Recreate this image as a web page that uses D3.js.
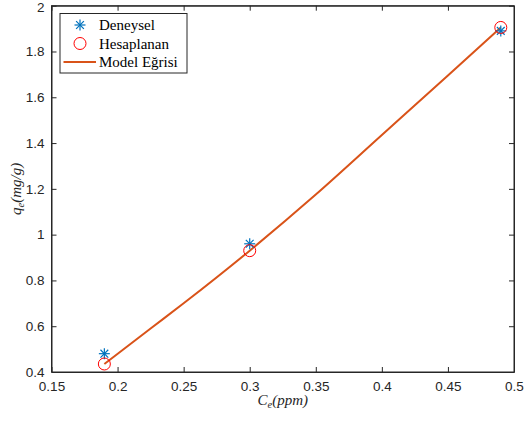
<!DOCTYPE html>
<html>
<head>
<meta charset="utf-8">
<script src="https://cdn.jsdelivr.net/npm/d3@7/dist/d3.min.js"></script>
<style>
  body { margin: 0; background: #fff; }
  svg { display: block; }
</style>
</head>
<body>
<div id="chart"></div>
<script>
var xTicks = [0.15, 0.2, 0.25, 0.3, 0.35, 0.4, 0.45, 0.5];
var yTicks = [0.4, 0.6, 0.8, 1, 1.2, 1.4, 1.6, 1.8, 2];

var deneyselC = [0.19, 0.30, 0.49];
var deneyselQ = [0.48, 0.96, 1.89];
var hesapC = [0.19, 0.30, 0.49];
var hesapQ = [0.435, 0.93, 1.905];
var modelC = [0.19, 0.225, 0.25, 0.30, 0.35, 0.40, 0.45, 0.49];
var modelQ = [0.435, 0.59, 0.70, 0.93, 1.175, 1.435, 1.695, 1.905];

var legendNames = ["Deneysel", "Hesaplanan", "Model Eğrisi"];

(function() {
var width = 525, height = 421;
var mL = 51.5, mR = 514, mT = 5.7, mB = 372;

var svg = d3.select("#chart").append("svg")
    .attr("width", width)
    .attr("height", height);

var x = d3.scaleLinear().domain([0.15, 0.5]).range([mL, mR]);
var y = d3.scaleLinear().domain([0.4, 2]).range([mB, mT]);

var tickFont = "'Liberation Sans', Arial, sans-serif";
var serif = "'Liberation Serif', 'DejaVu Serif', serif";

// axes box
svg.append("rect")
    .attr("x", mL).attr("y", mT)
    .attr("width", mR - mL).attr("height", mB - mT)
    .attr("fill", "#fff")
    .attr("stroke", "#262626")
    .attr("stroke-width", 1);

function fmt(v) { return String(+v.toFixed(2)); }

var xAxis = svg.append("g").attr("transform", "translate(0," + mB + ")")
    .call(d3.axisBottom(x).tickValues(xTicks).tickSizeInner(-5).tickSizeOuter(0).tickPadding(9).tickFormat(fmt));
var xAxisTop = svg.append("g").attr("transform", "translate(0," + mT + ")")
    .call(d3.axisTop(x).tickValues(xTicks).tickSizeInner(-5).tickSizeOuter(0).tickFormat(""));
var yAxis = svg.append("g").attr("transform", "translate(" + mL + ",0)")
    .call(d3.axisLeft(y).tickValues(yTicks).tickSizeInner(-5).tickSizeOuter(0).tickPadding(7).tickFormat(fmt));
var yAxisRight = svg.append("g").attr("transform", "translate(" + mR + ",0)")
    .call(d3.axisRight(y).tickValues(yTicks).tickSizeInner(-5).tickSizeOuter(0).tickFormat(""));

[xAxis, xAxisTop, yAxis, yAxisRight].forEach(function(a) {
    a.select(".domain").attr("stroke", "#262626");
    a.selectAll(".tick line").attr("stroke", "#262626");
    a.selectAll("text")
        .attr("fill", "#262626")
        .style("font-family", tickFont)
        .style("font-size", "13.5px");
});
// keep the top label inside the picture
yAxis.selectAll(".tick text").filter(function(d) { return d === 2; }).attr("dy", "0.4em");

// model curve
var modelData = modelC.map(function(c, i) { return {c: c, q: modelQ[i]}; });
svg.append("path")
    .datum(modelData)
    .attr("fill", "none")
    .attr("stroke", "#D95319")
    .attr("stroke-width", 2)
    .attr("d", d3.line()
        .x(function(d) { return x(d.c); })
        .y(function(d) { return y(d.q); })
        .curve(d3.curveMonotoneX));

function asterisk(g, cx, cy, r) {
    var d = r * 0.7071;
    var segs = [[-r, 0, r, 0], [0, -r, 0, r], [-d, -d, d, d], [-d, d, d, -d]];
    segs.forEach(function(s) {
        g.append("line")
            .attr("x1", cx + s[0]).attr("y1", cy + s[1])
            .attr("x2", cx + s[2]).attr("y2", cy + s[3])
            .attr("stroke", "#0072BD")
            .attr("stroke-width", 1.2);
    });
}

// Deneysel markers
var den = svg.append("g");
deneyselC.forEach(function(c, i) {
    asterisk(den, x(c), y(deneyselQ[i]), 5.5);
});

// Hesaplanan markers
svg.selectAll(".hes")
    .data(hesapC)
    .enter().append("circle")
    .attr("class", "hes")
    .attr("cx", function(d) { return x(d); })
    .attr("cy", function(d, i) { return y(hesapQ[i]); })
    .attr("r", 6)
    .attr("fill", "none")
    .attr("stroke", "#FF0000")
    .attr("stroke-width", 1);

// legend
var leg = svg.append("g");
leg.append("rect")
    .attr("x", 60).attr("y", 13.5)
    .attr("width", 127).attr("height", 59.5)
    .attr("fill", "#fff")
    .attr("stroke", "#262626")
    .attr("stroke-width", 1);

var rowY = [25, 43.5, 62];
asterisk(leg, 80, rowY[0], 5.5);
leg.append("circle")
    .attr("cx", 80).attr("cy", rowY[1]).attr("r", 6)
    .attr("fill", "none").attr("stroke", "#FF0000").attr("stroke-width", 1);
leg.append("line")
    .attr("x1", 63.5).attr("x2", 96)
    .attr("y1", rowY[2]).attr("y2", rowY[2])
    .attr("stroke", "#D95319").attr("stroke-width", 2);

leg.selectAll(".ltxt")
    .data(legendNames)
    .enter().append("text")
    .attr("class", "ltxt")
    .attr("x", 99)
    .attr("y", function(d, i) { return rowY[i] + 5; })
    .attr("fill", "#000")
    .style("font-family", serif)
    .style("font-size", "15px")
    .text(function(d) { return d; });

// axis labels
var xl = svg.append("text")
    .attr("x", (mL + mR) / 2)
    .attr("y", 405)
    .attr("text-anchor", "middle")
    .attr("fill", "#262626")
    .style("font-family", serif)
    .style("font-style", "italic")
    .style("font-size", "15px");
xl.append("tspan").text("C");
xl.append("tspan").attr("dy", 3).style("font-size", "10.5px").text("e");
xl.append("tspan").attr("dy", -3).text("(ppm)");

var yl = svg.append("text")
    .attr("transform", "translate(21," + ((mT + mB) / 2) + ") rotate(-90)")
    .attr("text-anchor", "middle")
    .attr("fill", "#262626")
    .style("font-family", serif)
    .style("font-style", "italic")
    .style("font-size", "15px");
yl.append("tspan").text("q");
yl.append("tspan").attr("dy", 3).style("font-size", "10.5px").text("e");
yl.append("tspan").attr("dy", -3).text("(mg/g)");
})();
</script>
</body>
</html>
